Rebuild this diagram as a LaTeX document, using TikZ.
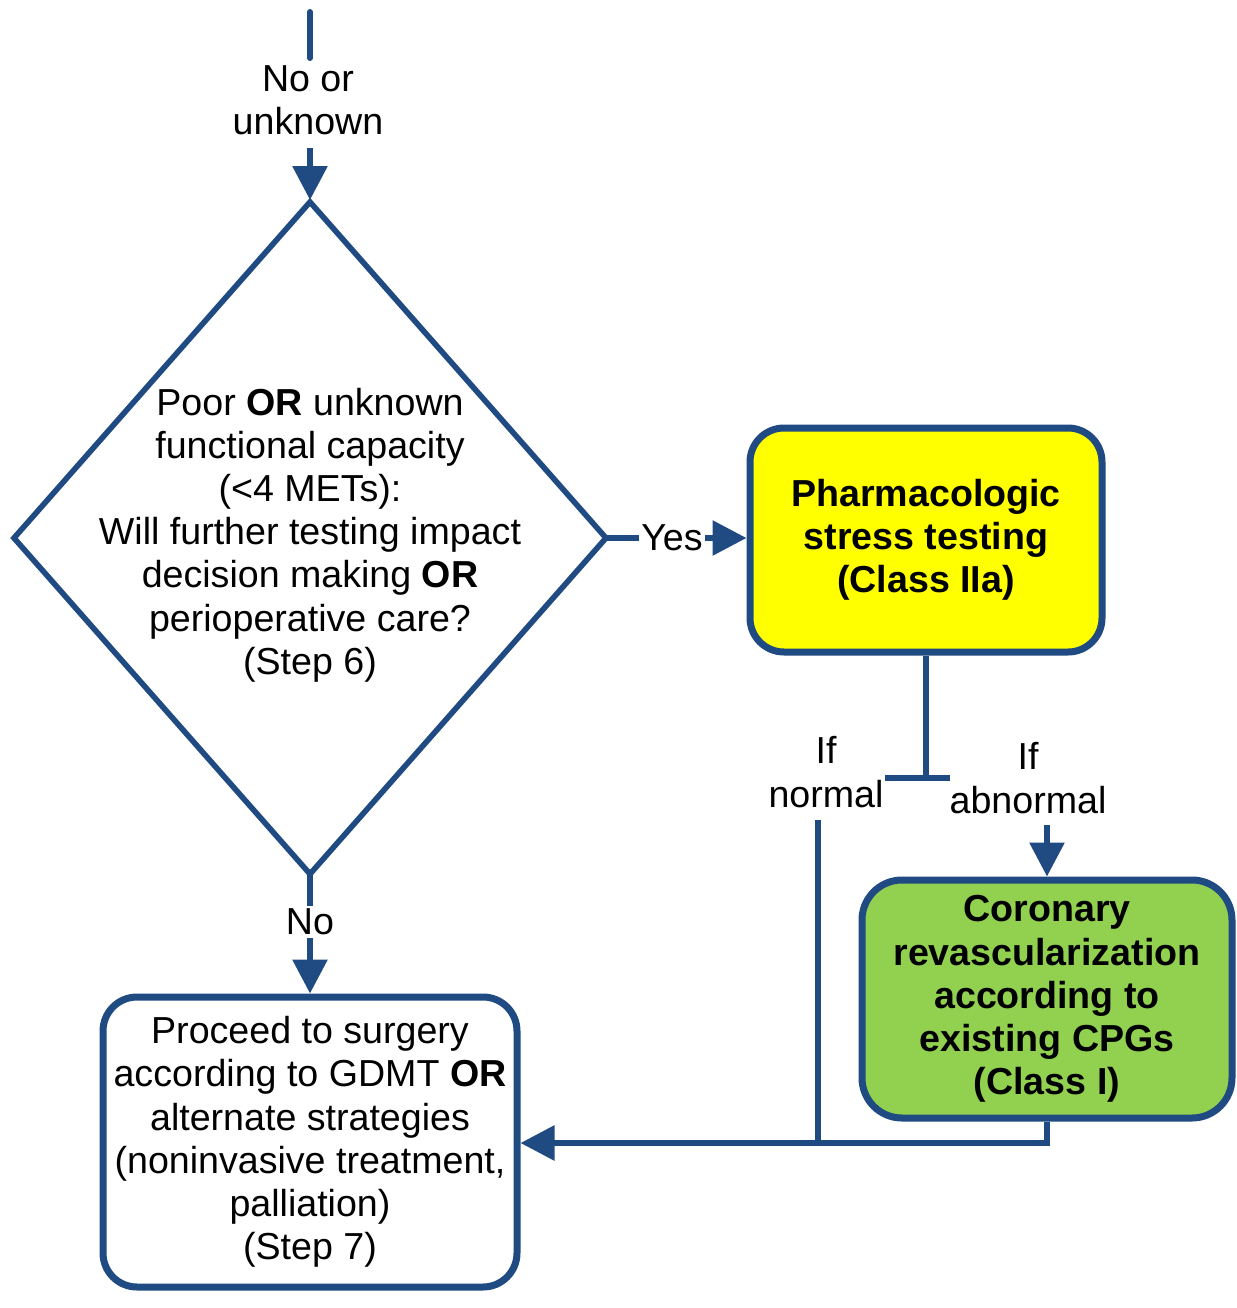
\documentclass[tikz,border=0pt]{standalone}
\usepackage{fontspec}
\setmainfont{Liberation Sans}
\usetikzlibrary{shapes.geometric,arrows.meta}
\definecolor{flowblue}{HTML}{1F4B82}
\definecolor{boxyellow}{HTML}{FFFF00}
\definecolor{boxgreen}{HTML}{92D050}
\tikzset{
  txt/.style={font=\fontsize{18.8}{21.6}\selectfont, align=center, inner sep=1pt},
  box/.style={draw=flowblue, line width=3.5pt, rounded corners=17pt, align=center,
    font=\fontsize{18.8}{21.6}\selectfont, inner sep=0pt},
  link/.style={draw=flowblue, line width=3pt},
  arrowlink/.style={link, -{Triangle[length=17pt,width=17pt]}},
}
\begin{document}
\begin{tikzpicture}[x=0.5pt, y=-0.5pt]
\useasboundingbox (0,0) rectangle (1237,1308);

% decision diamond and its question
\node[diamond, draw=flowblue, line width=2.8pt, minimum width=296pt, minimum height=336pt,
  inner sep=0pt, outer sep=0pt] (q) at (310,538) {};
\node[txt] (qtext) at (310,535) {Poor \textbf{OR} unknown\\functional capacity\\(<4 METs):\\
  Will further testing impact\\decision making \textbf{OR}\\perioperative care?\\(Step 6)};

% entry from above
\coordinate (entry) at (310,12);
\node[txt] (nounk) at (308,100) {No or\\unknown};
\draw[link, line cap=round] (entry) -- (310,58);
\draw[arrowlink] (310,148) -- ([yshift=1pt]q.north);

% boxes
\node[box, fill=boxyellow, minimum width=176pt, minimum height=112pt] (pharm) at (926,540)
  {\textbf{Pharmacologic}\\\textbf{stress testing}\\\textbf{(Class IIa)}};
\node[box, fill=boxgreen, rounded corners=20pt, minimum width=185pt, minimum height=119pt] (cabg) at (1047,999)
  {\textbf{Coronary}\\\textbf{revascularization}\\\textbf{according to}\\\textbf{existing CPGs}\\\textbf{(Class I)}};
\node[box, fill=white, minimum width=207pt, minimum height=145pt] (surg) at (310,1142)
  {Proceed to surgery\\according to GDMT \textbf{OR}\\alternate strategies\\(noninvasive treatment,\\palliation)\\(Step 7)};

% Yes branch
\node[txt] (yes) at (672,538) {Yes};
\draw[link] (q.east) -- (q.east -| yes.west);
\draw[arrowlink] (yes.east) -- (yes.east -| pharm.west);

% No branch
\node[txt] (no) at (310,922) {No};
\draw[link] (q.south) -- (no.north);
\draw[arrowlink] (no.south) -- (surg.north);

% test result split
\coordinate (tee) at (926,778);
\draw[link] (pharm.south) -- (tee);
\draw[link] (885,778) -- (950,778);
\node[txt] (ifnorm) at (826,772) {If\\normal};
\node[txt] (ifabn) at (1028,778) {If\\abnormal};
\draw[arrowlink] (1047,825) -- (cabg.north);

% return paths to surgery
\coordinate (join) at (818,1143);
\draw[link] (818,820) -- (join);
\draw[link] (cabg.south) |- (join);
\draw[arrowlink] (join) -- (surg.east |- join);
\end{tikzpicture}
\end{document}
